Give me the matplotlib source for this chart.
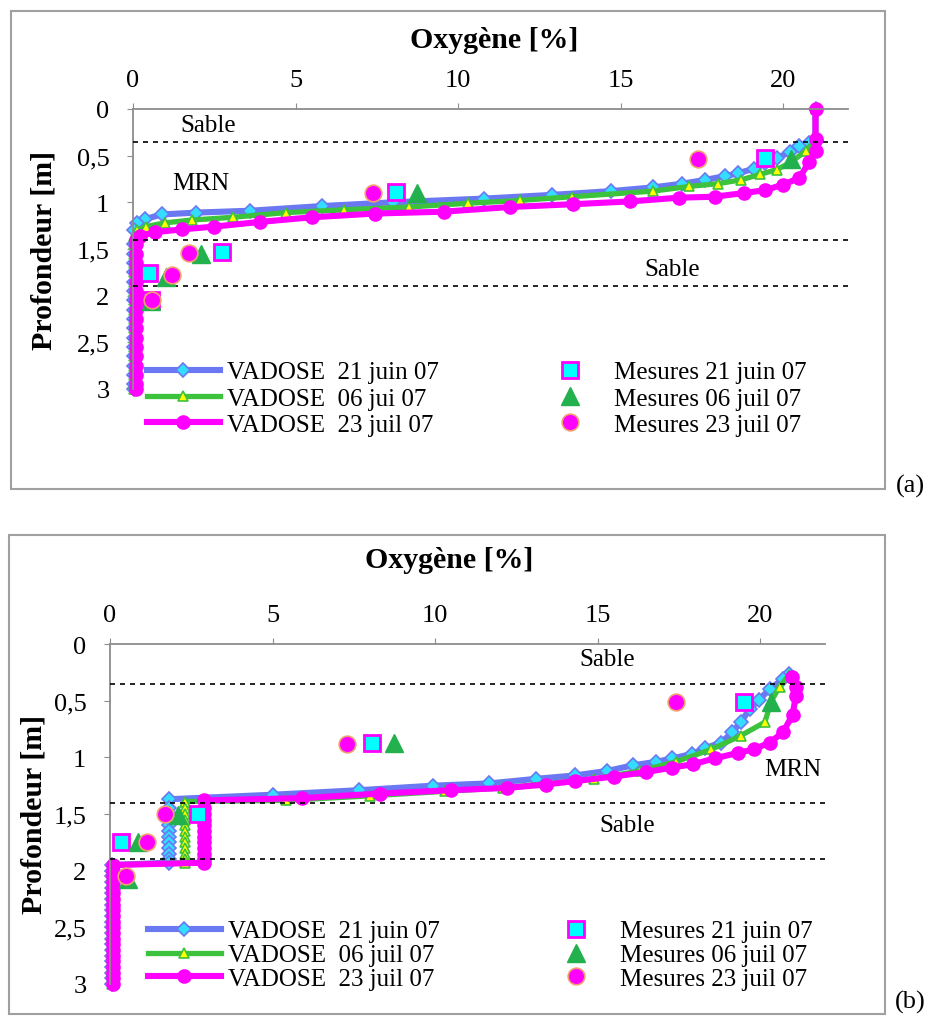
import matplotlib
matplotlib.use("Agg")
import matplotlib.pyplot as plt
from matplotlib.patches import Rectangle

plt.rcParams['font.family'] = ['Liberation Serif', 'DejaVu Serif']

# ---- data, panel (a) ----
z_deep_a = [1.45, 1.55, 1.65, 1.75, 1.85, 1.95, 2.05, 2.15, 2.25, 2.35, 2.45,
            2.55, 2.65, 2.75, 2.85, 2.95, 3.0]

a_blue_x = [21.0, 21.0, 20.8, 20.5, 20.2, 19.8, 19.45, 19.1, 18.6, 18.2, 17.6,
            16.9, 16.0, 14.7, 12.9, 10.8, 8.0, 5.8, 3.6, 1.95, 0.88, 0.37,
            0.12, 0.03] + [0.03] * len(z_deep_a)
a_blue_y = [0.0, 0.33, 0.36, 0.40, 0.46, 0.53, 0.58, 0.64, 0.69, 0.72, 0.76,
            0.80, 0.84, 0.88, 0.92, 0.96, 1.00, 1.04, 1.09, 1.11, 1.13, 1.18,
            1.22, 1.30] + z_deep_a

a_green_x = [21.0, 21.0, 20.7, 20.2, 19.8, 19.3, 18.7, 18.0, 17.1, 16.0, 13.5,
             11.9, 10.3, 8.5, 6.5, 4.7, 3.08, 1.8, 0.98, 0.4, 0.13,
             0.04] + [0.04] * len(z_deep_a)
a_green_y = [0.0, 0.33, 0.45, 0.58, 0.65, 0.70, 0.76, 0.80, 0.83, 0.88, 0.94,
             0.98, 1.01, 1.05, 1.08, 1.11, 1.16, 1.19, 1.22, 1.26, 1.30,
             1.36] + z_deep_a

a_pink_x = [21.0, 21.0, 21.0, 20.8, 20.5, 20.0, 19.45, 18.8, 17.9, 16.8, 15.3,
            13.55, 11.6, 9.56, 7.45, 5.5, 3.9, 2.5, 1.5, 0.68, 0.22,
            0.08] + [0.08] * len(z_deep_a)
a_pink_y = [0.0, 0.32, 0.45, 0.57, 0.74, 0.81, 0.87, 0.90, 0.94, 0.95, 0.99,
            1.02, 1.05, 1.10, 1.12, 1.16, 1.21, 1.26, 1.29, 1.32, 1.36,
            1.40] + z_deep_a

a_sq_x = [19.45, 8.09, 2.75, 0.49, 0.55]
a_sq_y = [0.52, 0.89, 1.53, 1.76, 2.05]
a_tri_x = [20.25, 8.75, 2.1, 1.0, 0.55]
a_tri_y = [0.54, 0.90, 1.55, 1.80, 2.06]
a_circ_x = [17.37, 7.37, 1.73, 1.2, 0.57]
a_circ_y = [0.54, 0.90, 1.54, 1.78, 2.05]

# ---- data, panel (b) ----
z_step_b = [1.45, 1.50, 1.55, 1.60, 1.65, 1.70, 1.75, 1.80, 1.85, 1.90, 1.93]
z_deep_b = [1.95, 2.0, 2.05, 2.1, 2.15, 2.2, 2.25, 2.3, 2.35, 2.4, 2.45, 2.5,
            2.55, 2.6, 2.65, 2.7, 2.75, 2.8, 2.85, 2.9, 2.95, 3.0]

b_blue_x = [20.9, 20.7, 20.3, 19.97, 19.7, 19.4, 19.15, 18.8, 18.3, 17.9, 17.3,
            16.8, 16.1, 15.3, 14.3, 13.1, 11.67, 9.94, 7.66, 5.0,
            1.8] + [1.8] * len(z_step_b) + [0.05] * len(z_deep_b)
b_blue_y = [0.265, 0.31, 0.40, 0.49, 0.57, 0.69, 0.78, 0.87, 0.92, 0.97, 1.01,
            1.04, 1.07, 1.12, 1.16, 1.19, 1.23, 1.25, 1.29, 1.33,
            1.37] + z_step_b + z_deep_b

b_green_x = [20.9, 20.6, 20.35, 20.15, 19.4, 18.5, 17.4, 16.3, 14.9, 12.1, 10.3,
             8.0, 5.4, 2.3] + [2.3] * len(z_step_b) + [0.06] * len(z_deep_b)
b_green_y = [0.27, 0.38, 0.50, 0.69, 0.81, 0.93, 1.04, 1.12, 1.19, 1.27, 1.30,
             1.34, 1.38, 1.39] + z_step_b + z_deep_b

b_pink_x = [20.97, 21.1, 21.1, 21.0, 20.7, 20.3, 19.8, 19.33, 18.6, 17.95, 17.3,
            16.5, 15.5, 14.3, 13.4, 12.2, 10.5, 8.3, 5.9,
            2.9] + [2.9] * len(z_step_b) + [0.1] * len(z_deep_b)
b_pink_y = [0.29, 0.38, 0.46, 0.63, 0.78, 0.87, 0.93, 0.96, 1.01, 1.06, 1.09,
            1.13, 1.17, 1.21, 1.24, 1.27, 1.29, 1.32, 1.36,
            1.38] + z_step_b + z_deep_b

b_sq_x = [19.5, 8.05, 2.7, 0.35]
b_sq_y = [0.51, 0.87, 1.50, 1.75]
b_tri_x = [20.35, 8.75, 2.1, 0.85, 0.55]
b_tri_y = [0.51, 0.87, 1.51, 1.75, 2.07]
b_circ_x = [17.4, 7.3, 1.7, 1.15, 0.5]
b_circ_y = [0.51, 0.88, 1.50, 1.75, 2.05]

layers = [0.35, 1.4, 1.9]
yticks = [0, 0.5, 1, 1.5, 2, 2.5, 3]
ytick_labels = ['0', '0,5', '1', '1,5', '2', '2,5', '3']
xticks = [0, 5, 10, 15, 20]

lines_a = ['VADOSE  21 juin 07', 'VADOSE  06 jui 07', 'VADOSE  23 juil 07']
lines_b = ['VADOSE  21 juin 07', 'VADOSE  06 juil 07', 'VADOSE  23 juil 07']
mes_labels = ['Mesures 21 juin 07', 'Mesures 06 juil 07', 'Mesures 23 juil 07']

BLUE = '#6a78f2'
GREEN = '#3cc23c'
PINK = '#ff00ff'

W, H = 930, 1020
fig = plt.figure(figsize=(9.3, 10.2), dpi=100)


def px(x0, y0, x1, y1):
    # pixel box -> figure fraction rect
    return [x0 / W, 1 - y1 / H, (x1 - x0) / W, (y1 - y0) / H]


def panel(rect, bx, by, gx, gy, mx, my, sq, tri, circ, line_labels,
          leg_anchor, labsp, colsp):
    ax = fig.add_axes(rect)
    ax.plot(bx, by, '-', color=BLUE, lw=4.4, marker='D', ms=7.5,
            mfc='#33ddff', mec=BLUE, mew=1.2, label=line_labels[0], zorder=2,
            clip_on=False)
    ax.plot(gx, gy, '-', color=GREEN, lw=3.8, marker='^', ms=7,
            mfc='#ffff00', mec=GREEN, mew=1.2, label=line_labels[1], zorder=2.1,
            clip_on=False)
    ax.plot(mx, my, '-', color=PINK, lw=4.4, marker='o', ms=9.5,
            mfc=PINK, mec=PINK, label=line_labels[2], zorder=2.2,
            clip_on=False)
    for z in layers:
        ax.axhline(z, color='black', lw=1.2, ls=(0, (3, 3)), zorder=4)
    ax.plot(sq[0], sq[1], 's', ms=12, mfc='#00ffff', mec=PINK, mew=2.0,
            ls='none', label=mes_labels[0], zorder=5)
    ax.plot(tri[0], tri[1], '^', ms=13, mfc='#22b14c', mec='#22b14c',
            ls='none', label=mes_labels[1], zorder=5)
    ax.plot(circ[0], circ[1], 'o', ms=12, mfc=PINK, mec='#f0a070', mew=1.2,
            ls='none', label=mes_labels[2], zorder=5)

    ax.set_xlim(0, 22)
    ax.set_ylim(3, 0)
    ax.xaxis.tick_top()
    ax.set_xticks(xticks)
    ax.set_yticks(yticks)
    ax.set_yticklabels(ytick_labels)
    for s in ['right', 'bottom']:
        ax.spines[s].set_visible(False)
    for s in ['top', 'left']:
        ax.spines[s].set_color('#8c8c8c')
        ax.spines[s].set_linewidth(1.3)
    ax.tick_params(axis='x', direction='out', length=4, color='#8c8c8c',
                   labelsize=19, pad=9)
    ax.tick_params(axis='y', direction='out', length=4, color='#8c8c8c',
                   labelsize=19, pad=13)

    h, l = ax.get_legend_handles_labels()
    fig.legend(h, l, ncol=2, loc='upper left', bbox_to_anchor=leg_anchor,
               frameon=False, fontsize=18, borderpad=0, borderaxespad=0,
               handlelength=2.9, handletextpad=0.3, labelspacing=labsp,
               columnspacing=colsp)
    return ax


ax_a = panel(px(133, 110, 848, 390), a_blue_x, a_blue_y, a_green_x, a_green_y,
             a_pink_x, a_pink_y, (a_sq_x, a_sq_y), (a_tri_x, a_tri_y),
             (a_circ_x, a_circ_y), lines_a, (147 / W, 1 - 362 / H), 0.15, 3.8)
ax_a.text(2.3, 0.17, 'Sable', fontsize=18, ha='center', va='center')
ax_a.text(2.1, 0.79, 'MRN', fontsize=18, ha='center', va='center')
ax_a.text(16.6, 1.71, 'Sable', fontsize=18, ha='center', va='center')

ax_b = panel(px(110, 645, 825, 985), b_blue_x, b_blue_y, b_green_x, b_green_y,
             b_pink_x, b_pink_y, (b_sq_x, b_sq_y), (b_tri_x, b_tri_y),
             (b_circ_x, b_circ_y), lines_b, (148 / W, 1 - 921 / H), 0.05, 4.0)
ax_b.text(15.3, 0.13, 'Sable', fontsize=18, ha='center', va='center')
ax_b.text(21.0, 1.1, 'MRN', fontsize=18, ha='center', va='center')
ax_b.text(15.9, 1.6, 'Sable', fontsize=18, ha='center', va='center')

# titles and axis labels
fig.text(494 / W, 1 - 41 / H, 'Oxygène [%]', fontsize=21.5, fontweight='bold',
         ha='center', va='center')
fig.text(449 / W, 1 - 560 / H, 'Oxygène [%]', fontsize=21.5, fontweight='bold',
         ha='center', va='center')
fig.text(44 / W, 1 - 250 / H, 'Profondeur [m]', fontsize=21.5,
         fontweight='bold', ha='center', va='center', rotation=90)
fig.text(34 / W, 1 - 814 / H, 'Profondeur [m]', fontsize=21.5,
         fontweight='bold', ha='center', va='center', rotation=90)
fig.text(910 / W, 1 - 486 / H, '(a)', fontsize=19, ha='center', va='center')
fig.text(910 / W, 1 - 1002 / H, '(b)', fontsize=19, ha='center', va='center')

# outer frames
for r in [px(11, 12, 885, 490), px(9, 536, 885, 1015)]:
    fig.patches.append(Rectangle((r[0], r[1]), r[2], r[3], fill=False,
                                 ec='#a0a0a0', lw=1.5,
                                 transform=fig.transFigure, figure=fig))

fig.savefig('out.png', dpi=100)
